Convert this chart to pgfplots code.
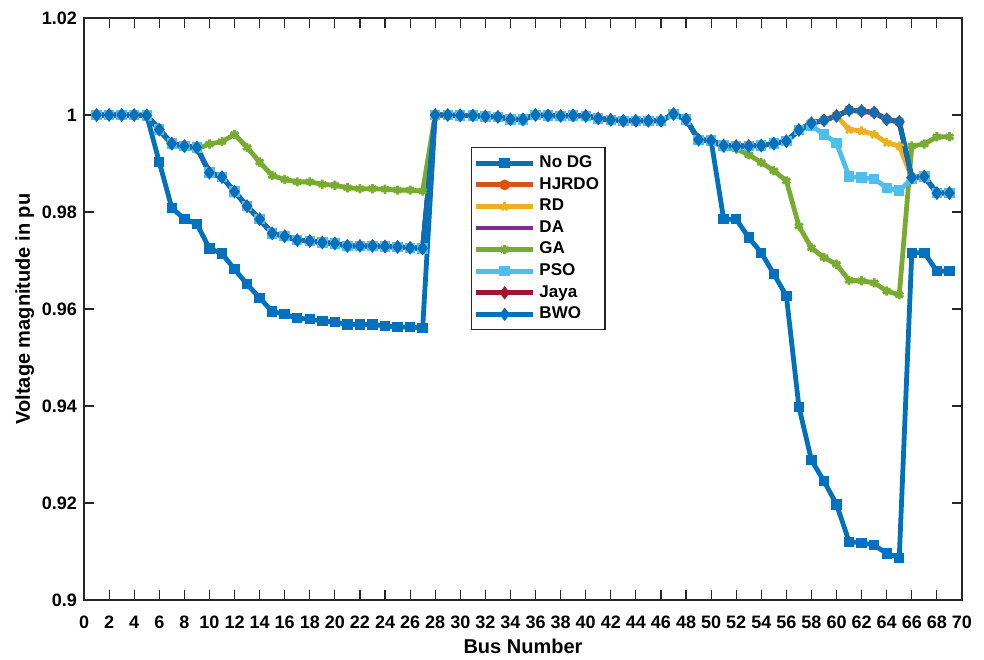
\documentclass[border=0pt]{standalone}
\usepackage{fontspec}
\setmainfont{Liberation Sans}
\usepackage{pgfplots}
\usepackage{pgfplotstable}
\pgfplotsset{compat=1.18}
\definecolor{cnodg}{HTML}{0072BD}
\definecolor{chj}{HTML}{D95319}
\definecolor{crd}{HTML}{EDB120}
\definecolor{cda}{HTML}{7E2F8E}
\definecolor{cga}{HTML}{77AC30}
\definecolor{cpso}{HTML}{4DBEEE}
\definecolor{cjaya}{HTML}{A2142F}
\definecolor{cbwo}{HTML}{0072BD}
\pgfplotstableread{
bus nodg top rd ga pso
1 1.0000 1.0000 1.0000 1.0000 1.0000
2 1.0000 1.0000 1.0000 1.0000 1.0000
3 1.0000 1.0000 1.0000 1.0000 1.0000
4 1.0000 1.0000 1.0000 1.0000 1.0000
5 0.9999 0.9999 0.9999 0.9999 0.9999
6 0.9903 0.9970 0.9970 0.9968 0.9970
7 0.9808 0.9941 0.9941 0.9938 0.9941
8 0.9786 0.9936 0.9936 0.9933 0.9936
9 0.9775 0.9933 0.9933 0.9930 0.9933
10 0.9725 0.9881 0.9881 0.9940 0.9881
11 0.9714 0.9872 0.9872 0.9945 0.9872
12 0.9682 0.9842 0.9842 0.9960 0.9842
13 0.9651 0.9812 0.9812 0.9933 0.9812
14 0.9623 0.9785 0.9785 0.9903 0.9785
15 0.9595 0.9756 0.9756 0.9875 0.9756
16 0.9589 0.9750 0.9750 0.9867 0.9750
17 0.9581 0.9742 0.9742 0.9862 0.9742
18 0.9579 0.9740 0.9740 0.9862 0.9740
19 0.9575 0.9737 0.9737 0.9857 0.9737
20 0.9573 0.9735 0.9735 0.9855 0.9735
21 0.9568 0.9730 0.9730 0.9850 0.9730
22 0.9568 0.9730 0.9730 0.9848 0.9730
23 0.9568 0.9730 0.9730 0.9848 0.9730
24 0.9565 0.9729 0.9729 0.9847 0.9729
25 0.9563 0.9728 0.9728 0.9845 0.9728
26 0.9563 0.9726 0.9726 0.9845 0.9726
27 0.9561 0.9725 0.9725 0.9843 0.9725
28 1.0000 1.0000 1.0000 1.0000 1.0000
29 1.0000 1.0000 1.0000 1.0000 1.0000
30 0.9999 0.9999 0.9999 0.9999 0.9999
31 0.9999 0.9999 0.9999 0.9999 0.9999
32 0.9997 0.9997 0.9997 0.9997 0.9997
33 0.9996 0.9996 0.9996 0.9996 0.9996
34 0.9991 0.9991 0.9991 0.9991 0.9991
35 0.9991 0.9991 0.9991 0.9991 0.9991
36 1.0000 1.0000 1.0000 1.0000 1.0000
37 0.9999 0.9999 0.9999 0.9999 0.9999
38 0.9998 0.9998 0.9998 0.9998 0.9998
39 0.9999 0.9999 0.9999 0.9999 0.9999
40 0.9998 0.9998 0.9998 0.9998 0.9998
41 0.9993 0.9993 0.9993 0.9993 0.9993
42 0.9990 0.9990 0.9990 0.9990 0.9990
43 0.9988 0.9988 0.9988 0.9988 0.9988
44 0.9988 0.9988 0.9988 0.9988 0.9988
45 0.9988 0.9988 0.9988 0.9988 0.9988
46 0.9988 0.9988 0.9988 0.9988 0.9988
47 1.0002 1.0002 1.0002 1.0002 1.0002
48 0.9991 0.9991 0.9991 0.9991 0.9991
49 0.9949 0.9949 0.9949 0.9949 0.9949
50 0.9947 0.9947 0.9947 0.9947 0.9947
51 0.9785 0.9937 0.9937 0.9932 0.9937
52 0.9785 0.9936 0.9936 0.9930 0.9936
53 0.9747 0.9936 0.9936 0.9918 0.9936
54 0.9716 0.9937 0.9937 0.9902 0.9937
55 0.9672 0.9941 0.9941 0.9885 0.9941
56 0.9627 0.9946 0.9946 0.9864 0.9946
57 0.9398 0.9969 0.9969 0.9771 0.9969
58 0.9288 0.9983 0.9983 0.9726 0.9978
59 0.9245 0.9989 0.9989 0.9706 0.9960
60 0.9197 0.9998 0.9998 0.9692 0.9942
61 0.9120 1.0010 0.9970 0.9659 0.9873
62 0.9118 1.0008 0.9967 0.9658 0.9871
63 0.9113 1.0005 0.9960 0.9654 0.9868
64 0.9096 0.9991 0.9943 0.9637 0.9850
65 0.9087 0.9986 0.9936 0.9629 0.9844
66 0.9716 0.9871 0.9871 0.9936 0.9868
67 0.9716 0.9873 0.9873 0.9940 0.9873
68 0.9678 0.9839 0.9839 0.9955 0.9839
69 0.9678 0.9839 0.9839 0.9955 0.9839
}\datatable
\begin{document}
\begin{tikzpicture}
\begin{axis}[
  width=439pt, height=291pt, scale only axis,
  xmin=0, xmax=70, ymin=0.9, ymax=1.02,
  xtick={0,2,4,6,8,10,12,14,16,18,20,22,24,26,28,30,32,34,36,38,40,42,44,46,48,50,52,54,56,58,60,62,64,66,68,70},
  ytick={0.9,0.92,0.94,0.96,0.98,1,1.02},
  yticklabels={0.9,0.92,0.94,0.96,0.98,1,1.02},
  tick align=inside,
  major tick length=5pt,
  axis line style={draw=black!85, line width=0.6pt},
  every tick/.style={draw=black!85, line width=0.6pt},
  /pgf/number format/assume math mode=true,
  ticklabel style={font=\bfseries\fontsize{9}{10}\selectfont},
  xticklabel style={inner xsep=0pt, yshift=-4.5pt},
  label style={font=\bfseries\fontsize{10}{12}\selectfont},
  xlabel={Bus Number},
  ylabel={Voltage magnitude in pu},
  xlabel style={yshift=2pt},
  ylabel style={yshift=-3pt},
  every axis plot/.append style={line width=2.4pt, mark size=1.4pt},
  legend style={at={(rel axis cs:0.441,0.778)}, anchor=north west,
    draw=black!85, line width=0.6pt, font=\bfseries\fontsize{8.5}{10}\selectfont,
    row sep=-0.6pt, inner xsep=1pt, inner ysep=2pt, cells={anchor=west}},
  legend image code/.code={\draw[mark repeat=2,mark phase=2] plot coordinates {(0cm,0cm) (0.5cm,0cm) (1cm,0cm)};},
]
\addplot[color=cnodg, mark=square*] table[x=bus,y=nodg]{\datatable};
\addlegendentry{No DG}
\addplot[color=chj, mark=*] table[x=bus,y=top]{\datatable};
\addlegendentry{HJRDO}
\addplot[color=crd, mark=star, mark size=2.3pt, mark options={line width=1.4pt}] table[x=bus,y=rd]{\datatable};
\addlegendentry{RD}
\addplot[color=cda] table[x=bus,y=top]{\datatable};
\addlegendentry{DA}
\addplot[color=cga, mark=asterisk, mark size=2.3pt, mark options={line width=1.4pt}] table[x=bus,y=ga]{\datatable};
\addlegendentry{GA}
\addplot[color=cpso, mark=square*] table[x=bus,y=pso]{\datatable};
\addlegendentry{PSO}
\addplot[color=cjaya, mark=diamond*] table[x=bus,y=top]{\datatable};
\addlegendentry{Jaya}
\addplot[color=cbwo, mark=diamond*] table[x=bus,y=top]{\datatable};
\addlegendentry{BWO}
\coordinate (bbA) at (rel axis cs:-0.0957,-0.0979);
\coordinate (bbB) at (rel axis cs:1.0251,1.0309);
\end{axis}
\path (bbA) rectangle (bbB);
\end{tikzpicture}
\end{document}
